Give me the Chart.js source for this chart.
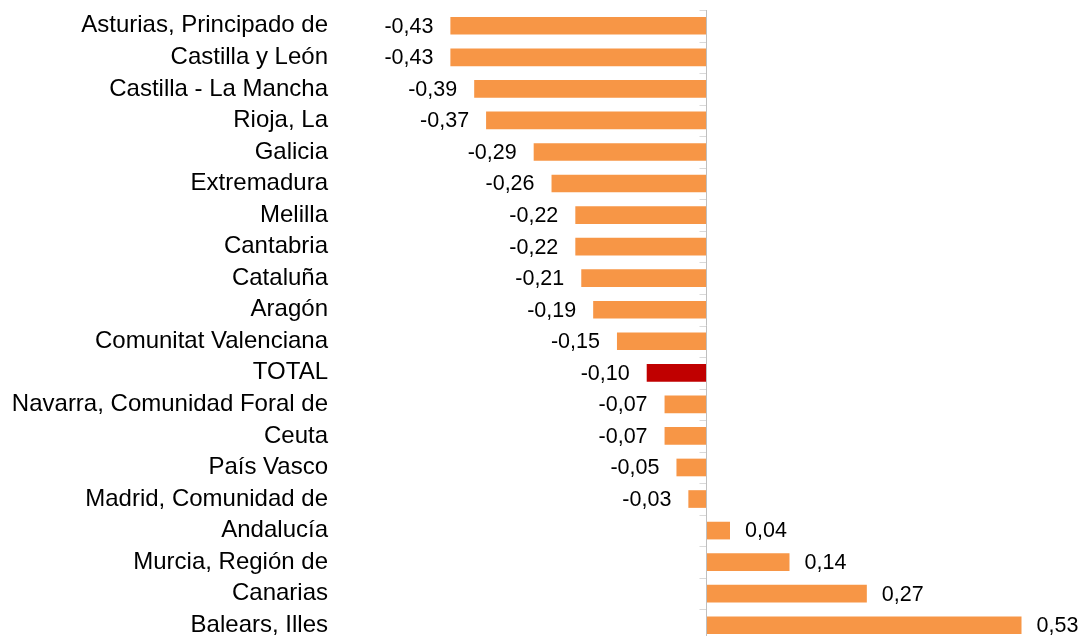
<!DOCTYPE html>
<html>
<head>
<meta charset="utf-8">
<script src="https://cdn.jsdelivr.net/npm/chart.js@4"></script>
<style>
    html, body { margin: 0; padding: 0; background: #fff; overflow: hidden; }
    #wrap { width: 1083px; height: 643px; position: relative; }
</style>
</head>
<body>
<div id="wrap"><canvas id="regionChart"></canvas></div>
<script>
const regions = [
    'Asturias, Principado de', 'Castilla y León', 'Castilla - La Mancha', 'Rioja, La',
    'Galicia', 'Extremadura', 'Melilla', 'Cantabria', 'Cataluña', 'Aragón',
    'Comunitat Valenciana', 'TOTAL', 'Navarra, Comunidad Foral de', 'Ceuta',
    'País Vasco', 'Madrid, Comunidad de', 'Andalucía', 'Murcia, Región de',
    'Canarias', 'Balears, Illes'
];
const changes = [
    -0.43, -0.43, -0.39, -0.37, -0.29, -0.26, -0.22, -0.22, -0.21, -0.19,
    -0.15, -0.10, -0.07, -0.07, -0.05, -0.03, 0.04, 0.14, 0.27, 0.53
];
const xRange = [-0.55, 0.63];

const barColors = regions.map(r => r === 'TOTAL' ? '#C00000' : '#F79646');

// zero axis line with small tick marks on its left side
const zeroAxis = {
    id: 'zeroAxis',
    afterDatasetsDraw(chart) {
        const { ctx, chartArea, scales } = chart;
        const x0 = Math.round(scales.x.getPixelForValue(0)) + 0.5;
        const pitch = (chartArea.bottom - chartArea.top) / regions.length;
        ctx.save();
        ctx.lineWidth = 1;
        ctx.strokeStyle = '#D9D9D9';
        for (let i = 0; i <= regions.length; i++) {
            const y = Math.round(chartArea.top + i * pitch) + 0.5;
            ctx.beginPath();
            ctx.moveTo(x0 - 7, y);
            ctx.lineTo(x0, y);
            ctx.stroke();
        }
        ctx.strokeStyle = '#BFBFBF';
        ctx.beginPath();
        ctx.moveTo(x0, chartArea.top);
        ctx.lineTo(x0, chartArea.bottom);
        ctx.stroke();
        ctx.restore();
    }
};

// value labels beside each bar
const valueLabels = {
    id: 'valueLabels',
    afterDatasetsDraw(chart) {
        const { ctx } = chart;
        const meta = chart.getDatasetMeta(0);
        ctx.save();
        ctx.font = '21.5px "Liberation Sans", Arial, sans-serif';
        ctx.fillStyle = '#000';
        ctx.textBaseline = 'middle';
        meta.data.forEach((bar, i) => {
            const v = changes[i];
            const txt = v.toFixed(2).replace('.', ',');
            if (v < 0) {
                ctx.textAlign = 'right';
                ctx.fillText(txt, bar.x - 17, bar.y + 1);
            } else {
                ctx.textAlign = 'left';
                ctx.fillText(txt, bar.x + 15, bar.y + 1);
            }
        });
        ctx.restore();
    }
};

new Chart(document.getElementById('regionChart'), {
    type: 'bar',
    data: {
        labels: regions,
        datasets: [{
            data: changes,
            backgroundColor: barColors,
            borderWidth: 0,
            barPercentage: 0.56,
            categoryPercentage: 1
        }]
    },
    options: {
        indexAxis: 'y',
        responsive: true,
        maintainAspectRatio: false,
        animation: false,
        layout: { padding: { top: 10, bottom: 2, right: 2, left: 0 } },
        plugins: {
            legend: { display: false },
            tooltip: { enabled: false }
        },
        scales: {
            x: {
                display: false,
                min: xRange[0],
                max: xRange[1]
            },
            y: {
                afterFit(scale) {
                    scale.width = 379;
                    scale.paddingTop = 0;
                    scale.paddingBottom = 0;
                },
                grid: { display: false, drawTicks: false },
                border: { display: false },
                ticks: {
                    autoSkip: false,
                    padding: 51,
                    color: '#000',
                    font: { family: '"Liberation Sans", Arial, sans-serif', size: 24 }
                }
            }
        }
    },
    plugins: [zeroAxis, valueLabels]
});
</script>
</body>
</html>
